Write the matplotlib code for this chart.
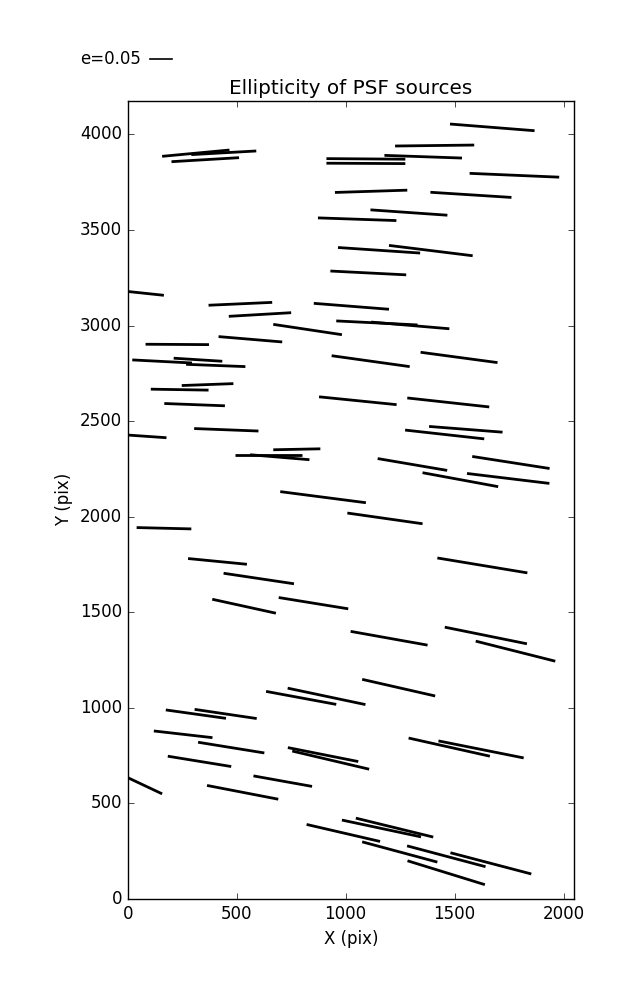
import matplotlib
matplotlib.use("Agg")
import matplotlib.pyplot as plt
from matplotlib.collections import LineCollection
from matplotlib.lines import Line2D

# whisker end points (pix on the CCD)
x_start = [158, 292, 201, 912, 912, 1479, 1227, 1178, 1569, 951, 1389, 873, 1114,
           965, 1199, 930, 0, 371, 854, 464, 668, 957, 1117, 82, 417, 21, 211, 268,
           936, 1344, 248, 106, 168, 878, 1283, 0, 305, 1383, 1273, 668, 492, 562,
           1147, 1581, 1353, 1557, 700, 41, 1008, 277, 440, 388, 693, 1421, 1023,
           1455, 1597, 1076, 635, 734, 175, 307, 120, 323, 184, 0, 577, 364, 735,
           755, 821, 983, 1047, 1076, 1282, 1481, 1284, 1289, 1426]
y_start = [3885, 3894, 3857, 3873, 3849, 4054, 3939, 3890, 3796, 3696, 3697, 3563, 3605,
           3408, 3419, 3285, 3178, 3106, 3116, 3048, 3006, 3024, 3018, 2902, 2942, 2820,
           2829, 2797, 2842, 2860, 2686, 2667, 2592, 2627, 2621, 2427, 2461, 2472, 2453,
           2350, 2324, 2324, 2304, 2315, 2230, 2226, 2131, 1943, 2019, 1781, 1704, 1568,
           1577, 1784, 1400, 1422, 1349, 1149, 1086, 1103, 989, 992, 879, 820, 747, 635,
           644, 594, 792, 774, 390, 413, 423, 299, 278, 242, 200, 842, 827]
x_end = [467, 590, 511, 1274, 1274, 1867, 1590, 1534, 1980, 1283, 1761, 1233, 1467,
         1342, 1583, 1278, 166, 663, 1199, 750, 983, 1330, 1476, 373, 709, 295, 434,
         540, 1294, 1697, 485, 371, 446, 1234, 1659, 178, 600, 1720, 1636, 884, 798,
         834, 1466, 1936, 1700, 1935, 1093, 292, 1353, 547, 763, 680, 1012, 1834,
         1376, 1832, 1962, 1411, 957, 1091, 451, 592, 389, 627, 475, 158, 846, 691,
         1058, 1108, 1158, 1346, 1402, 1421, 1642, 1852, 1639, 1662, 1817]
y_end = [3918, 3913, 3878, 3870, 3847, 4019, 3944, 3876, 3776, 3708, 3670, 3549, 3577,
         3379, 3365, 3265, 3158, 3121, 3085, 3067, 2952, 3003, 2983, 2900, 2914, 2804,
         2813, 2785, 2785, 2806, 2696, 2662, 2580, 2586, 2574, 2413, 2448, 2442, 2407,
         2355, 2324, 2298, 2242, 2252, 2157, 2174, 2073, 1936, 1963, 1751, 1649, 1495,
         1518, 1706, 1328, 1335, 1244, 1062, 1018, 1017, 945, 944, 844, 764, 693, 550,
         589, 522, 719, 679, 301, 325, 324, 193, 169, 131, 75, 747, 738]

key_e = 0.05

plt.style.use("classic")
fig = plt.figure(figsize=(6.37, 10), dpi=100, facecolor="white")
ax = fig.add_axes([127.7 / 637, 0.101, 446.3 / 637, 0.7983])

segs = [[(a, b), (c, d)] for a, b, c, d in zip(x_start, y_start, x_end, y_end)]
lc = LineCollection(segs, colors="black", linewidths=2, capstyle="butt")
ax.add_collection(lc)

ax.set_xlim(0, 2048)
ax.set_ylim(0, 4176)
ax.set_xlabel("X (pix)")
ax.set_ylabel("Y (pix)")
ax.set_title("Ellipticity of PSF sources", fontsize=14.4)

# scale key
fig.add_artist(Line2D([150 / 637, 172 / 637], [0.941, 0.941], color="black", lw=1.2,
                      transform=fig.transFigure))
fig.text(141 / 637, 0.941, "e=%.2f" % key_e, ha="right", va="center", fontsize=12)

fig.savefig("out.png", dpi=100, facecolor="white")
